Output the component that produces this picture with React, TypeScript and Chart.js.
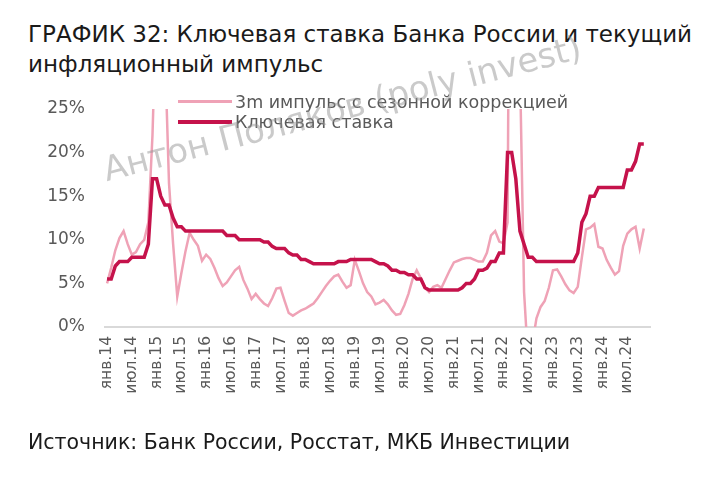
import React, { useEffect, useRef } from 'react';
import { Chart, registerables } from 'chart.js';

Chart.register(...registerables);

const MONTHS = ['янв', 'фев', 'мар', 'апр', 'май', 'июн', 'июл', 'авг', 'сен', 'окт', 'ноя', 'дек'];
const YEARS = ['14', '15', '16', '17', '18', '19', '20', '21', '22', '23', '24'];
const CATEGORIES = YEARS.flatMap((y) => MONTHS.map((m) => `${m}.${y}`));

const KEY_RATE = [
  5.5, 5.5, 7, 7.5, 7.5, 7.5, 8, 8, 8, 8, 9.5, 17,
  17, 15, 14, 14, 12.5, 11.5, 11.5, 11, 11, 11, 11, 11,
  11, 11, 11, 11, 11, 10.5, 10.5, 10.5, 10, 10, 10, 10,
  10, 10, 9.75, 9.75, 9.25, 9, 9, 9, 8.5, 8.25, 8.25, 7.75,
  7.75, 7.5, 7.25, 7.25, 7.25, 7.25, 7.25, 7.25, 7.5, 7.5, 7.5, 7.75,
  7.75, 7.75, 7.75, 7.75, 7.75, 7.5, 7.25, 7.25, 7, 6.5, 6.5, 6.25,
  6.25, 6, 6, 5.5, 5.5, 4.5, 4.25, 4.25, 4.25, 4.25, 4.25, 4.25,
  4.25, 4.25, 4.5, 5, 5, 5.5, 6.5, 6.5, 6.75, 7.5, 7.5, 8.5,
  8.5, 20, 20, 17, 11, 9.5, 8, 8, 7.5, 7.5, 7.5, 7.5,
  7.5, 7.5, 7.5, 7.5, 7.5, 7.5, 8.5, 12, 13, 15, 15, 16,
  16, 16, 16, 16, 16, 16, 18, 18, 19, 21, 21,
];

const IMPULSE = [
  5.0, 6.8, 8.8, 10.2, 11.0, 9.5, 8.3, 8.6, 9.5, 10.0, 12.0, 22.0,
  38, 42, 32, 16.5, 9.5, 3.5, 6.2, 8.7, 10.8, 10.0, 9.3, 7.6,
  8.3, 7.8, 6.8, 5.6, 4.7, 5.1, 5.8, 6.5, 6.9, 5.4, 4.4, 3.2,
  3.8, 3.2, 2.7, 2.4, 3.3, 4.4, 4.5, 3.0, 1.6, 1.3, 1.6, 1.9,
  2.1, 2.4, 2.7, 3.3, 4.0, 4.7, 5.3, 5.8, 6.0, 5.2, 4.5, 4.8,
  7.7, 6.4, 5.0, 4.0, 3.5, 2.6, 2.8, 3.1, 2.6, 1.9, 1.4, 1.5,
  2.5, 3.8, 5.5, 6.5, 5.6, 4.5, 4.0, 4.6, 4.8, 4.5, 5.5, 6.5,
  7.4, 7.6, 7.8, 7.9, 7.9, 7.7, 7.5, 7.5, 8.5, 10.5, 11.0, 9.8,
  9.6, 12, 90, 60, 30, 4, -4, -2, 1.0, 2.3, 3.0, 4.5,
  6.5, 6.6, 5.8, 4.9, 4.2, 3.9, 4.6, 8.0, 11.2, 11.4, 11.8, 9.2,
  9.0, 7.7, 6.8, 6.0, 6.4, 9.3, 10.7, 11.2, 11.5, 9.0, 11.3,
];

const Y_MIN = 0;
const Y_MAX = 25;
const Y_STEP = 5;

const TITLE_LINES = ['ГРАФИК 32: Ключевая ставка Банка России и текущий', 'инфляционный импульс'];
const SOURCE = 'Источник: Банк России, Росстат, МКБ Инвестиции';
const WATERMARK = 'Антон Поляков (poly invest)';
const IMPULSE_LABEL = '3m импульс с сезонной коррекцией';
const RATE_LABEL = 'Ключевая ставка';

const RATE_COLOR = '#C5124B';
const IMPULSE_COLOR = '#EFA2B6';
const FONT = "'DejaVu Sans', Verdana, sans-serif";

export default function App() {
  const ref = useRef<HTMLCanvasElement>(null);

  useEffect(() => {
    const chart = new Chart(ref.current as HTMLCanvasElement, {
      type: 'line',
      data: {
        labels: CATEGORIES,
        datasets: [
          {
            label: RATE_LABEL,
            data: KEY_RATE,
            borderColor: RATE_COLOR,
            backgroundColor: RATE_COLOR,
            borderWidth: 3.5,
            pointRadius: 0,
            tension: 0,
            order: 0,
          },
          {
            label: IMPULSE_LABEL,
            data: IMPULSE,
            borderColor: IMPULSE_COLOR,
            backgroundColor: IMPULSE_COLOR,
            borderWidth: 2.5,
            pointRadius: 0,
            tension: 0,
            order: 1,
          },
        ],
      },
      options: {
        responsive: false,
        animation: false,
        events: [],
        layout: { padding: { top: 109, right: 64, bottom: 0, left: 0 } },
        plugins: { legend: { display: false }, tooltip: { enabled: false } },
        scales: {
          x: {
            offset: true,
            grid: { display: false, drawTicks: false },
            border: { display: true, color: '#d9d9d9', width: 2 },
            ticks: {
              autoSkip: false,
              maxRotation: 90,
              minRotation: 90,
              padding: 9,
              color: '#595959',
              font: { family: FONT, size: 15.5 },
              callback: (_v: any, i: number) => (i % 6 === 0 ? CATEGORIES[i] : null),
            },
            afterFit: (s: any) => {
              s.height = 172;
            },
          },
          y: {
            min: Y_MIN,
            max: Y_MAX,
            grid: { display: false, drawTicks: false },
            border: { display: false },
            ticks: {
              stepSize: Y_STEP,
              padding: 20,
              color: '#595959',
              font: { family: FONT, size: 17 },
              callback: (v: any) => `${v}%`,
            },
            afterFit: (s: any) => {
              s.width = 105;
            },
          },
        },
      },
    } as any);
    return () => chart.destroy();
  }, []);

  const legendItem = (label: string, color: string, thick: number, cy: number) => (
    <div style={{ position: 'absolute', left: 178, top: cy - 11, height: 22, width: 460 }}>
      <div
        style={{
          position: 'absolute',
          left: 0,
          top: 11 - thick / 2,
          width: 54,
          height: thick,
          background: color,
        }}
      />
      <div
        style={{
          position: 'absolute',
          left: 57,
          top: 0,
          lineHeight: '22px',
          fontSize: 17.5,
          fontFamily: FONT,
          color: '#595959',
          whiteSpace: 'nowrap',
        }}
      >
        {label}
      </div>
    </div>
  );

  return (
    <div
      style={{
        position: 'absolute',
        left: 0,
        top: 0,
        width: 714,
        height: 499,
        background: '#ffffff',
        overflow: 'hidden',
      }}
    >
      <div
        style={{
          position: 'absolute',
          left: 28,
          top: 19,
          fontFamily: FONT,
          fontSize: 23,
          lineHeight: '30px',
          color: '#1a1a1a',
          whiteSpace: 'nowrap',
        }}
      >
        {TITLE_LINES[0]}
        <br />
        {TITLE_LINES[1]}
      </div>
      <canvas
        ref={ref}
        width={714}
        height={499}
        style={{ position: 'absolute', left: 0, top: 0, width: 714, height: 499 }}
      />
      {legendItem(IMPULSE_LABEL, IMPULSE_COLOR, 3, 101.5)}
      {legendItem(RATE_LABEL, RATE_COLOR, 4, 122)}
      <div
        style={{
          position: 'absolute',
          left: 108,
          top: 152,
          fontFamily: FONT,
          fontSize: 34,
          lineHeight: '34px',
          color: 'rgba(150,150,150,0.5)',
          whiteSpace: 'nowrap',
          transform: 'rotate(-14.5deg)',
          transformOrigin: '0 100%',
          pointerEvents: 'none',
        }}
      >
        {WATERMARK}
      </div>
      <div
        style={{
          position: 'absolute',
          left: 28,
          top: 430,
          fontFamily: FONT,
          fontSize: 20.5,
          lineHeight: '24px',
          color: '#1a1a1a',
          whiteSpace: 'nowrap',
        }}
      >
        {SOURCE}
      </div>
    </div>
  );
}
